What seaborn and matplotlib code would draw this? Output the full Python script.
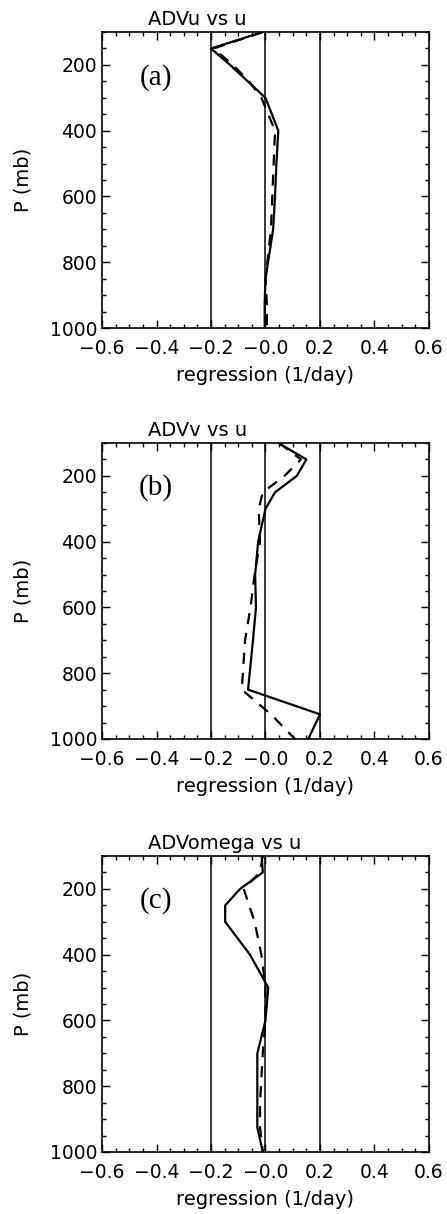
import numpy as np
import pandas as pd
import matplotlib
matplotlib.use("Agg")
import matplotlib.pyplot as plt
import seaborn as sns
from matplotlib.ticker import MultipleLocator

# pressure levels (mb)
levels = [100, 150, 200, 250, 300, 400, 500, 600, 700, 850, 925, 1000]

# regression profiles (1/day)
advu_solid = [-0.01, -0.20, -0.13, -0.065, 0.0, 0.047, 0.040, 0.035, 0.028, 0.0, -0.003, -0.003]
advu_dash = [-0.01, -0.19, -0.12, -0.06, -0.015, 0.035, 0.030, 0.025, 0.020, 0.0, 0.005, 0.005]

advv_solid = [0.047, 0.15, 0.115, 0.035, 0.0, -0.027, -0.038, -0.035, -0.046, -0.064, 0.20, 0.157]
advv_dash = [0.05, 0.13, 0.07, -0.01, -0.025, -0.02, -0.04, -0.055, -0.075, -0.087, 0.02, 0.108]

advw_solid = [-0.014, -0.01, -0.093, -0.148, -0.148, -0.057, 0.01, 0.0, -0.03, -0.03, -0.03, -0.01]
advw_dash = [-0.01, -0.02, -0.08, -0.06, -0.04, -0.015, 0.0, 0.0, -0.01, -0.02, -0.02, -0.01]

titles = ["ADVu vs u", "ADVv vs u", "ADVomega vs u"]
tags = ["(a)", "(b)", "(c)"]
ref_lines = [-0.2, 0.0, 0.2]
xticks = [-0.6, -0.4, -0.2, 0.0, 0.2, 0.4, 0.6]
xticklabels = ["\u22120.6", "\u22120.4", "\u22120.2", "\u22120.0", "0.2", "0.4", "0.6"]

panels = [(advu_solid, advu_dash), (advv_solid, advv_dash), (advw_solid, advw_dash)]

sns.set_style("ticks")
plt.rcParams["font.family"] = ["DejaVu Sans"]
plt.rcParams["text.color"] = "black"
plt.rcParams["axes.labelcolor"] = "black"

fig = plt.figure(figsize=(4.47, 12.14), dpi=100)
bottoms = [0.7298, 0.3913, 0.0511]

for i, (solid, dash) in enumerate(panels):
    ax = fig.add_axes([0.2282, bottoms[i], 0.7315, 0.2438])
    df = pd.DataFrame({
        "P": levels * 2,
        "reg": solid + dash,
        "kind": ["solid"] * len(levels) + ["dash"] * len(levels),
    })
    sns.lineplot(data=df[df.kind == "solid"], x="reg", y="P", sort=False,
                 estimator=None, color="black", lw=1.6, ax=ax)
    sns.lineplot(data=df[df.kind == "dash"], x="reg", y="P", sort=False,
                 estimator=None, color="black", lw=1.6, ax=ax,
                 linestyle=(0, (5, 4)))
    for xv in ref_lines:
        ax.axvline(xv, color="black", lw=1.1)

    ax.set_xlim(-0.6, 0.6)
    ax.set_ylim(1000, 100)
    ax.set_xticks(xticks)
    ax.set_xticklabels(xticklabels)
    ax.set_yticks([200, 400, 600, 800, 1000])
    ax.xaxis.set_minor_locator(MultipleLocator(0.05))
    ax.yaxis.set_minor_locator(MultipleLocator(50))
    ax.tick_params(which="both", direction="in", top=True, right=True,
                   colors="black", labelsize=13.5, width=1)
    ax.tick_params(which="major", length=6)
    ax.tick_params(which="minor", length=3)
    ax.tick_params(axis="x", pad=8)
    ax.tick_params(axis="y", pad=3.5)
    for sp in ax.spines.values():
        sp.set_linewidth(1.2)
        sp.set_color("black")

    ax.set_xlabel("regression (1/day)", fontsize=14, va="center", color="black")
    ax.xaxis.set_label_coords(0.5, -0.162)
    ax.set_ylabel("P (mb)", fontsize=14, va="center", color="black")
    ax.yaxis.set_label_coords(-0.2416, 0.5)
    ax.text(0.1407, 1.042, titles[i], transform=ax.transAxes, ha="left",
            va="center", fontsize=14, color="black")
    ax.text(0.165, 0.848, tags[i], transform=ax.transAxes, ha="center",
            va="center", fontsize=21, family="Liberation Serif", color="black")

fig.savefig("out.png", dpi=100)
